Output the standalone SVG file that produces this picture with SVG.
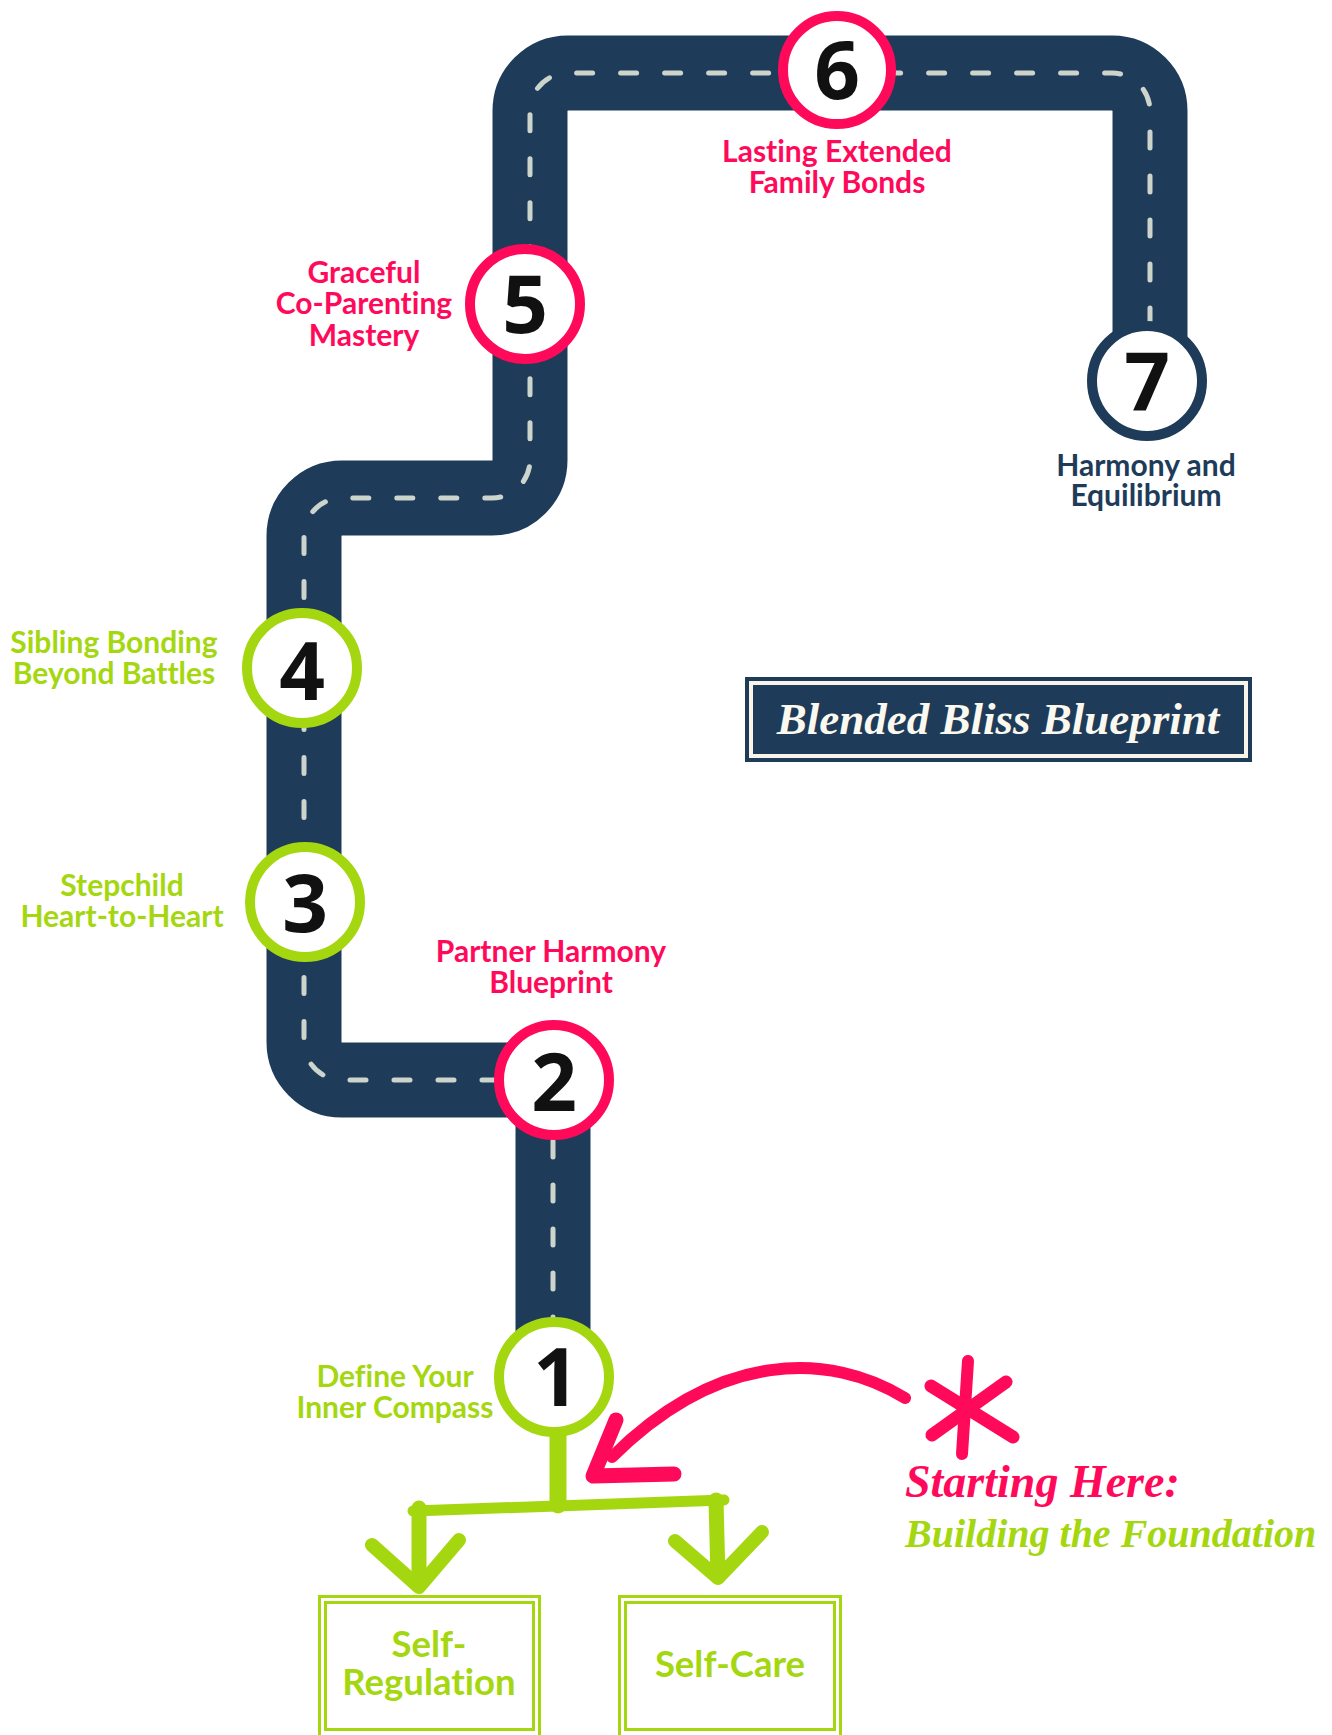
<svg xmlns="http://www.w3.org/2000/svg" width="1332" height="1735" viewBox="0 0 1332 1735">
<defs>
<style>
.road{fill:none;stroke:#1e3c59;stroke-width:75;stroke-linejoin:round}
.lane{fill:none;stroke:#cdd4cc;stroke-width:5;stroke-linecap:round;stroke-dasharray:16 28}
.ring{fill:#ffffff;stroke-width:10}
.pink{stroke:#ff0a5b}
.green{stroke:#a4d710}
.navy{stroke:#1e3c59}
.num{font-family:"Open Sans","DejaVu Sans",sans-serif;font-weight:700;font-size:80px;fill:#111111;text-anchor:middle}
.lbl{font-family:Lato,"Noto Sans",sans-serif;font-weight:700;font-size:30px;text-anchor:middle;font-variant-ligatures:none;font-feature-settings:"liga" 0}
.big{font-size:36.5px}
.tp{fill:#ff0a5b}
.tg{fill:#a4d710}
.tn{fill:#1e3c59}
.brush{fill:none;stroke-linecap:round;stroke-linejoin:round}
.box{fill:none;stroke:#a4d710;stroke-width:3}
.serif{font-family:"Liberation Serif","DejaVu Serif",serif;font-weight:700;font-style:italic}
</style>
</defs>
<rect width="1332" height="1735" fill="#ffffff"/>
<g id="connectors">
<path class="road" d="M553,1377 V1080 H342 A38,38 0 0 1 304,1042 V536 A38,38 0 0 1 342,498 H492 A38,38 0 0 0 530,460 V111 A38,38 0 0 1 568,73 H1112 A38,38 0 0 1 1150,111 V381"/>
<path class="lane" d="M553,1377 V1080 H342 A38,38 0 0 1 304,1042 V536 A38,38 0 0 1 342,498 H492 A38,38 0 0 0 530,460 V111 A38,38 0 0 1 568,73 H1112 A38,38 0 0 1 1150,111 V381"/>
<g id="tree" class="brush green">
<path d="M558,1437 V1505" stroke-width="17"/>
<path d="M413,1511 L724,1500" stroke-width="11"/>
<path d="M419,1508 V1584" stroke-width="15"/>
<path d="M372,1545 L419,1587 L459,1540" stroke-width="14"/>
<path d="M716,1500 L718,1577" stroke-width="15"/>
<path d="M675,1541 L718,1578 L762,1532" stroke-width="14"/>
</g>
<g id="pink-arrow" class="brush pink">
<path d="M905,1398 C830,1352 720,1350 612,1457" stroke-width="12"/>
<path d="M616,1420 L593,1476 L674,1474" stroke-width="15"/>
</g>
</g>
<g id="asterisk" class="brush pink">
<path d="M968,1361 L962,1454" stroke-width="12"/>
<path d="M931,1386 L1013,1437" stroke-width="13"/>
<path d="M1006,1382 L932,1435" stroke-width="13"/>
</g>
<g id="node-6">
<circle class="ring pink" cx="837" cy="70" r="54"/>
<text class="num" x="837" y="99">6</text>
<text class="lbl tp" x="837" y="162"><tspan x="837">Lasting Extended</tspan><tspan x="837" dy="31">Family Bonds</tspan></text>
</g>
<g id="node-5">
<circle class="ring pink" cx="525" cy="304" r="55"/>
<text class="num" x="525" y="333">5</text>
<text class="lbl tp" x="364" y="283"><tspan x="364">Graceful</tspan><tspan x="364" dy="31">Co-Parenting</tspan><tspan x="364" dy="32">Mastery</tspan></text>
</g>
<g id="node-4">
<circle class="ring green" cx="302" cy="668" r="55"/>
<text class="num" x="302" y="700">4</text>
<text class="lbl tg" x="114" y="653"><tspan x="114">Sibling Bonding</tspan><tspan x="114" dy="31">Beyond Battles</tspan></text>
</g>
<g id="node-3">
<circle class="ring green" cx="305" cy="902" r="55"/>
<text class="num" x="305" y="932">3</text>
<text class="lbl tg" x="122" y="896"><tspan x="122">Stepchild</tspan><tspan x="122" dy="31">Heart-to-Heart</tspan></text>
</g>
<g id="node-2">
<circle class="ring pink" cx="554" cy="1080" r="55"/>
<text class="num" x="554" y="1111">2</text>
<text class="lbl tp" x="551" y="962"><tspan x="551">Partner Harmony</tspan><tspan x="551" dy="31">Blueprint</tspan></text>
</g>
<g id="node-1">
<circle class="ring green" cx="554" cy="1377" r="55"/>
<text class="num" x="556" y="1406">1</text>
<text class="lbl tg" x="395" y="1387"><tspan x="395">Define Your</tspan><tspan x="395" dy="31">Inner Compass</tspan></text>
</g>
<g id="node-7">
<circle class="ring navy" cx="1147" cy="381" r="55"/>
<text class="num" x="1147" y="410">7</text>
<text class="lbl tn" x="1146" y="476"><tspan x="1146">Harmony and</tspan><tspan x="1146" dy="30">Equilibrium</tspan></text>
</g>
<g id="title">
<rect x="745" y="677" width="507" height="85" fill="#1e3c59"/>
<rect x="749" y="681" width="499" height="77" fill="#f8f4ea"/>
<rect x="753" y="685" width="491" height="69" fill="#1e3c59"/>
<text class="serif" x="998" y="734" font-size="45" fill="#fbf8f0" text-anchor="middle">Blended Bliss Blueprint</text>
</g>
<g id="caption">
<text class="serif" x="905" y="1497" font-size="46" fill="#ff0a5b">Starting Here:</text>
<text class="serif" x="905" y="1547" font-size="40" fill="#a4d710">Building the Foundation</text>
</g>
<g id="box-self-regulation">
<rect class="box" x="319.5" y="1596.5" width="220" height="145"/>
<rect class="box" x="325.5" y="1602.5" width="208" height="127"/>
<text class="lbl big tg" x="429" y="1657"><tspan x="429">Self-</tspan><tspan x="429" dy="38">Regulation</tspan></text>
</g>
<g id="box-self-care">
<rect class="box" x="619.5" y="1596.5" width="221" height="145"/>
<rect class="box" x="625.5" y="1602.5" width="209" height="127"/>
<text class="lbl big tg" x="730" y="1677">Self-Care</text>
</g>
</svg>
